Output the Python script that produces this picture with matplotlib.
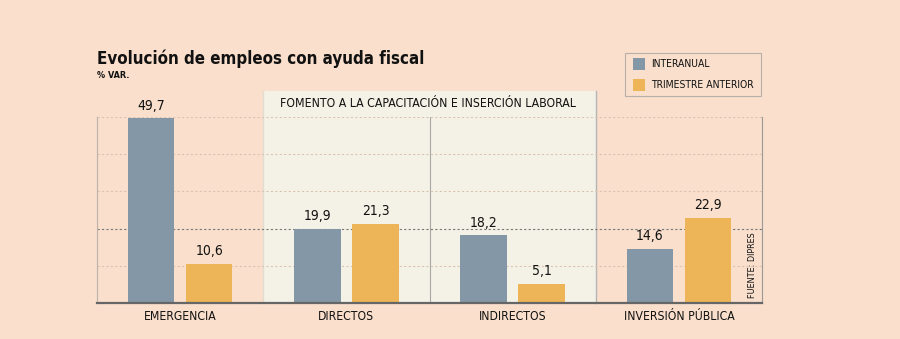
import numpy as np
import matplotlib
matplotlib.use("Agg")
import matplotlib.pyplot as plt
from matplotlib.patches import Rectangle

categories = ["EMERGENCIA", "DIRECTOS", "INDIRECTOS", "INVERSIÓN PÚBLICA"]
interanual = [49.7, 19.9, 18.2, 14.6]
trimestre = [10.6, 21.3, 5.1, 22.9]
series_names = ["INTERANUAL", "TRIMESTRE ANTERIOR"]

BG = "#f9dfcc"
BOX = "#f4f2e6"
GRAY = "#8497a6"
ORANGE = "#edb458"

plt.rcParams["font.family"] = ["DejaVu Sans"]
plt.rcParams["font.stretch"] = "condensed"

fig = plt.figure(figsize=(9, 3.39), dpi=100, facecolor=BG)
ax = fig.add_axes([97 / 900, 1 - 303 / 339, (762 - 97) / 900, (303 - 117) / 339])
ax.set_facecolor("none")

x = np.arange(len(categories))
w = 0.28
off = 0.175

# shaded block for the "fomento" group
ax.add_patch(Rectangle((0.5, 0), 2.0, 57, facecolor=BOX, edgecolor="none",
                       zorder=0, clip_on=False))
ax.plot([0.5, 0.5], [0, 57], color="#e2ddd0", lw=1, zorder=0.5, clip_on=False)
ax.plot([2.5, 2.5], [0, 57], color="#b5b5b5", lw=1, zorder=0.5, clip_on=False)
ax.plot([1.5, 1.5], [0, 50], color="#a8a8a8", lw=0.8, zorder=0.5)
ax.text(0.6, 53.5, "FOMENTO A LA CAPACITACIÓN E INSERCIÓN LABORAL",
        fontsize=8.8, va="center", ha="left", color="#111")

# grid
for g in [10, 30, 40, 50]:
    ax.axhline(g, color="#dcc2b2", lw=0.8, ls=(0, (2, 2)), zorder=0.6)
ax.axhline(20, color="#777777", lw=0.8, ls=(0, (2, 2)), zorder=0.6)

ax.bar(x - off, interanual, w, color=GRAY, zorder=2)
ax.bar(x + off, trimestre, w, color=ORANGE, zorder=2)

for xi, v in zip(x, interanual):
    ax.text(xi - off, v + 1.5, f"{v:.1f}".replace(".", ","), ha="center",
            va="bottom", fontsize=10, color="#111")
for xi, v in zip(x, trimestre):
    ax.text(xi + off, v + 1.5, f"{v:.1f}".replace(".", ","), ha="center",
            va="bottom", fontsize=10, color="#111")

ax.set_xlim(-0.5, 3.5)
ax.set_ylim(0, 50)
ax.set_yticks([])
ax.set_xticks(x)
ax.set_xticklabels(categories, fontsize=8.7, color="#111")
ax.tick_params(axis="x", length=0, pad=5)

ax.spines["top"].set_visible(False)
ax.spines["left"].set_color("#bdb3ab")
ax.spines["left"].set_linewidth(0.8)
ax.spines["right"].set_color("#999999")
ax.spines["right"].set_linewidth(0.8)
ax.spines["bottom"].set_color("#666666")
ax.spines["bottom"].set_linewidth(1.6)
ax.spines["bottom"].set_zorder(3)

ax.text(3.445, 10.3, "FUENTE: DIPRES", rotation=90, fontsize=6.5,
        ha="center", va="center", color="#111")

# titles
fig.text(97 / 900, 1 - 59 / 339, "Evolución de empleos con ayuda fiscal",
         fontsize=12.2, fontweight="bold", va="center", ha="left", color="#111")
fig.text(97 / 900, 1 - 76 / 339, "% VAR.", fontsize=6.5, fontweight="bold",
         va="center", ha="left", color="#111")

# legend box
fig.patches.append(Rectangle((625 / 900, 1 - 96 / 339), 136 / 900, 43 / 339,
                             transform=fig.transFigure, facecolor="none",
                             edgecolor="#b8b0a8", lw=0.8))
for i, (name, col) in enumerate(zip(series_names, [GRAY, ORANGE])):
    yc = 64 + i * 21
    fig.patches.append(Rectangle((633 / 900, 1 - (yc + 6) / 339), 12 / 900, 12 / 339,
                                 transform=fig.transFigure, facecolor=col,
                                 edgecolor="none"))
    fig.text(651 / 900, 1 - yc / 339, name, fontsize=7.5, va="center",
             ha="left", color="#111")

fig.savefig("out.png", dpi=100, facecolor=BG)
